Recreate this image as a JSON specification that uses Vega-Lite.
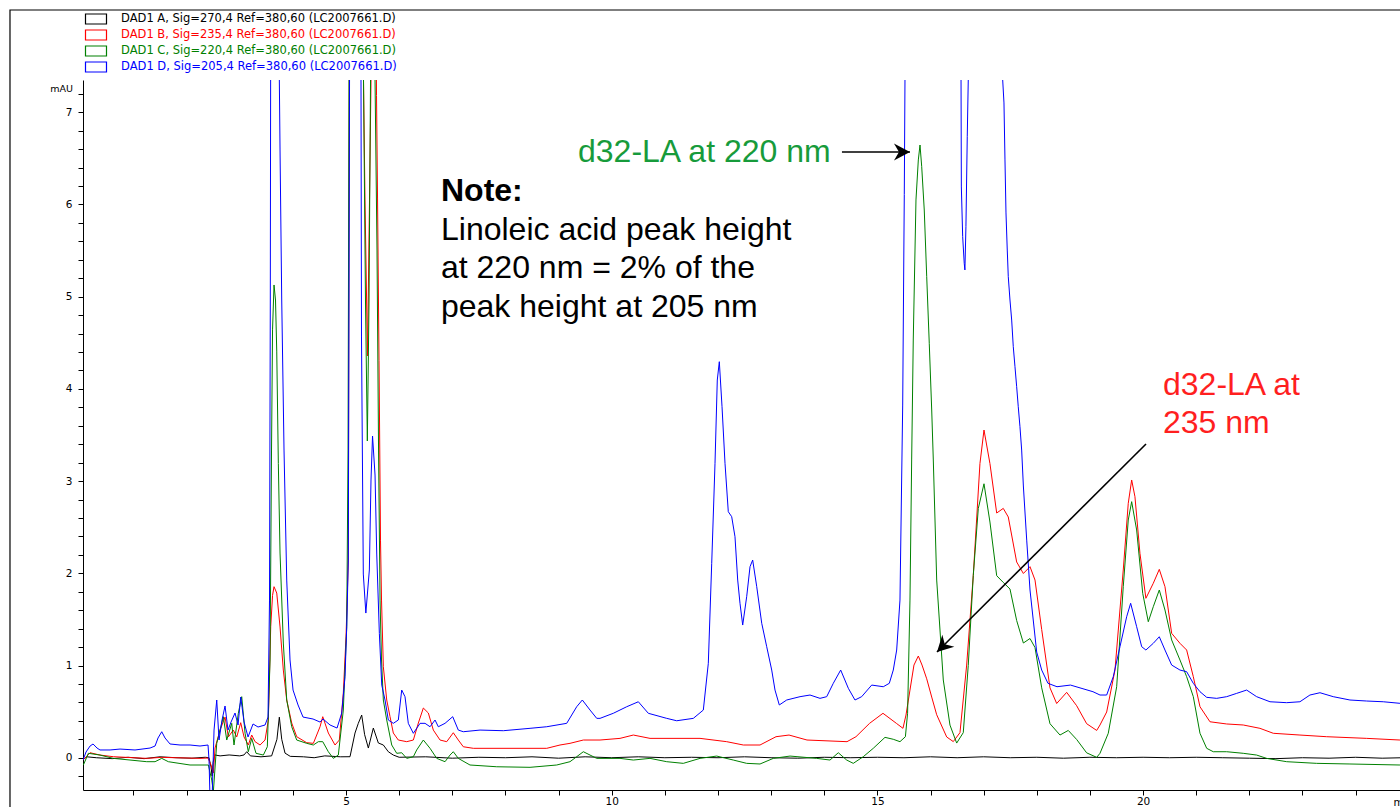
{
  "$schema": "https://vega.github.io/schema/vega-lite/v6.json",
  "autosize": "none",
  "width": 1317,
  "height": 710,
  "padding": {"left": 83, "top": 80, "right": 0, "bottom": 17},
  "background": "white",
  "config": {
    "font": "Liberation Sans",
    "view": {"stroke": null},
    "axis": {"grid": false, "domainColor": "#000", "tickColor": "#000", "labelColor": "#000", "titleColor": "#000", "labelFont": "DejaVu Sans", "titleFont": "DejaVu Sans", "titleFontWeight": "normal"}
  },
  "datasets": {
    "traces": [
      {"ch":"A","t":0.051,"v":-0.02},{"ch":"A","t":0.12,"v":0.01},{"ch":"A","t":0.3,"v":0.0},{"ch":"A","t":0.6,"v":-0.01},{"ch":"A","t":0.9,"v":0.005},{"ch":"A","t":1.2,"v":-0.01},{"ch":"A","t":1.5,"v":0.01},{"ch":"A","t":1.8,"v":0.0},{"ch":"A","t":2.1,"v":-0.005},{"ch":"A","t":2.35,"v":0.005},{"ch":"A","t":2.42,"v":0.0},{"ch":"A","t":2.46,"v":-0.1},{"ch":"A","t":2.48,"v":-0.2},{"ch":"A","t":2.5,"v":-0.05},{"ch":"A","t":2.53,"v":0.03},{"ch":"A","t":2.63,"v":0.02},{"ch":"A","t":2.8,"v":0.03},{"ch":"A","t":3.0,"v":0.02},{"ch":"A","t":3.08,"v":0.03},{"ch":"A","t":3.131,"v":0.065},{"ch":"A","t":3.2,"v":0.02},{"ch":"A","t":3.4,"v":0.01},{"ch":"A","t":3.6,"v":0.02},{"ch":"A","t":3.7,"v":0.2},{"ch":"A","t":3.745,"v":0.44},{"ch":"A","t":3.79,"v":0.2},{"ch":"A","t":3.852,"v":0.05},{"ch":"A","t":3.95,"v":0.015},{"ch":"A","t":4.2,"v":0.01},{"ch":"A","t":4.4,"v":0.0},{"ch":"A","t":4.6,"v":0.02},{"ch":"A","t":4.9,"v":0.01},{"ch":"A","t":5.075,"v":0.011},{"ch":"A","t":5.169,"v":0.268},{"ch":"A","t":5.231,"v":0.373},{"ch":"A","t":5.295,"v":0.463},{"ch":"A","t":5.35,"v":0.25},{"ch":"A","t":5.42,"v":0.105},{"ch":"A","t":5.514,"v":0.322},{"ch":"A","t":5.608,"v":0.16},{"ch":"A","t":5.702,"v":0.138},{"ch":"A","t":5.796,"v":0.065},{"ch":"A","t":5.89,"v":0.029},{"ch":"A","t":6.0,"v":0.005},{"ch":"A","t":6.5,"v":0.01},{"ch":"A","t":7.0,"v":-0.005},{"ch":"A","t":7.5,"v":0.005},{"ch":"A","t":8.0,"v":0.0},{"ch":"A","t":8.5,"v":0.01},{"ch":"A","t":9.0,"v":-0.005},{"ch":"A","t":9.5,"v":0.01},{"ch":"A","t":10.0,"v":0.0},{"ch":"A","t":10.5,"v":0.01},{"ch":"A","t":11.0,"v":0.0},{"ch":"A","t":11.5,"v":0.005},{"ch":"A","t":12.0,"v":0.0},{"ch":"A","t":12.5,"v":0.01},{"ch":"A","t":13.0,"v":0.0},{"ch":"A","t":13.5,"v":-0.005},{"ch":"A","t":14.0,"v":0.005},{"ch":"A","t":14.5,"v":0.0},{"ch":"A","t":15.0,"v":0.005},{"ch":"A","t":15.5,"v":0.0},{"ch":"A","t":16.0,"v":0.01},{"ch":"A","t":16.5,"v":0.0},{"ch":"A","t":17.0,"v":0.01},{"ch":"A","t":17.5,"v":0.0},{"ch":"A","t":18.0,"v":0.005},{"ch":"A","t":18.5,"v":-0.005},{"ch":"A","t":19.0,"v":0.005},{"ch":"A","t":19.5,"v":0.0},{"ch":"A","t":20.0,"v":0.005},{"ch":"A","t":20.5,"v":0.0},{"ch":"A","t":21.0,"v":0.005},{"ch":"A","t":21.5,"v":0.0},{"ch":"A","t":22.0,"v":-0.005},{"ch":"A","t":22.5,"v":-0.01},{"ch":"A","t":23.0,"v":0.0},{"ch":"A","t":23.5,"v":-0.005},{"ch":"A","t":24.0,"v":0.005},{"ch":"A","t":24.5,"v":-0.005},{"ch":"A","t":24.9,"v":0.0},

      {"ch":"B","t":0.051,"v":-0.025},{"ch":"B","t":0.183,"v":0.054},{"ch":"B","t":0.37,"v":0.029},{"ch":"B","t":0.621,"v":0.011},{"ch":"B","t":1.25,"v":-0.007},{"ch":"B","t":1.532,"v":0.004},{"ch":"B","t":2.252,"v":-0.007},{"ch":"B","t":2.403,"v":-0.003},{"ch":"B","t":2.46,"v":-0.08},{"ch":"B","t":2.503,"v":-0.166},{"ch":"B","t":2.535,"v":0.105},{"ch":"B","t":2.629,"v":0.3},{"ch":"B","t":2.723,"v":0.441},{"ch":"B","t":2.785,"v":0.225},{"ch":"B","t":2.879,"v":0.3},{"ch":"B","t":2.943,"v":0.225},{"ch":"B","t":3.018,"v":0.38},{"ch":"B","t":3.081,"v":0.225},{"ch":"B","t":3.161,"v":0.138},{"ch":"B","t":3.225,"v":0.246},{"ch":"B","t":3.288,"v":0.174},{"ch":"B","t":3.382,"v":0.138},{"ch":"B","t":3.476,"v":0.192},{"ch":"B","t":3.538,"v":0.409},{"ch":"B","t":3.583,"v":1.421},{"ch":"B","t":3.617,"v":1.76},{"ch":"B","t":3.645,"v":1.855},{"ch":"B","t":3.696,"v":1.786},{"ch":"B","t":3.758,"v":1.418},{"ch":"B","t":3.82,"v":0.951},{"ch":"B","t":3.884,"v":0.626},{"ch":"B","t":3.978,"v":0.376},{"ch":"B","t":4.072,"v":0.228},{"ch":"B","t":4.26,"v":0.163},{"ch":"B","t":4.385,"v":0.156},{"ch":"B","t":4.511,"v":0.336},{"ch":"B","t":4.562,"v":0.445},{"ch":"B","t":4.667,"v":0.268},{"ch":"B","t":4.793,"v":0.138},{"ch":"B","t":4.874,"v":0.192},{"ch":"B","t":4.949,"v":0.702},{"ch":"B","t":5.0,"v":1.31},{"ch":"B","t":5.043,"v":2.144},{"ch":"B","t":5.062,"v":7.35},{"ch":"B","t":5.075,"v":9},{"ch":"B","t":5.3,"v":9},{"ch":"B","t":5.329,"v":7.35},{"ch":"B","t":5.357,"v":6.049},{"ch":"B","t":5.404,"v":4.357},{"ch":"B","t":5.442,"v":6.049},{"ch":"B","t":5.47,"v":7.35},{"ch":"B","t":5.489,"v":9},{"ch":"B","t":5.555,"v":9},{"ch":"B","t":5.574,"v":7.18},{"ch":"B","t":5.593,"v":6.07},{"ch":"B","t":5.621,"v":4.31},{"ch":"B","t":5.649,"v":2.36},{"ch":"B","t":5.668,"v":1.71},{"ch":"B","t":5.702,"v":0.987},{"ch":"B","t":5.766,"v":0.626},{"ch":"B","t":5.828,"v":0.445},{"ch":"B","t":5.89,"v":0.268},{"ch":"B","t":5.984,"v":0.192},{"ch":"B","t":6.142,"v":0.174},{"ch":"B","t":6.267,"v":0.192},{"ch":"B","t":6.361,"v":0.376},{"ch":"B","t":6.455,"v":0.539},{"ch":"B","t":6.549,"v":0.485},{"ch":"B","t":6.643,"v":0.3},{"ch":"B","t":6.769,"v":0.192},{"ch":"B","t":6.895,"v":0.174},{"ch":"B","t":7.019,"v":0.271},{"ch":"B","t":7.113,"v":0.192},{"ch":"B","t":7.207,"v":0.119},{"ch":"B","t":7.396,"v":0.102},{"ch":"B","t":8.777,"v":0.102},{"ch":"B","t":9.027,"v":0.138},{"ch":"B","t":9.215,"v":0.156},{"ch":"B","t":9.466,"v":0.192},{"ch":"B","t":9.78,"v":0.192},{"ch":"B","t":10.156,"v":0.21},{"ch":"B","t":10.407,"v":0.246},{"ch":"B","t":10.721,"v":0.21},{"ch":"B","t":11.662,"v":0.21},{"ch":"B","t":12.164,"v":0.174},{"ch":"B","t":12.477,"v":0.138},{"ch":"B","t":12.791,"v":0.138},{"ch":"B","t":13.092,"v":0.228},{"ch":"B","t":13.337,"v":0.246},{"ch":"B","t":13.675,"v":0.192},{"ch":"B","t":14.428,"v":0.174},{"ch":"B","t":14.597,"v":0.228},{"ch":"B","t":14.853,"v":0.373},{"ch":"B","t":15.105,"v":0.482},{"ch":"B","t":15.357,"v":0.373},{"ch":"B","t":15.481,"v":0.319},{"ch":"B","t":15.538,"v":0.463},{"ch":"B","t":15.613,"v":0.734},{"ch":"B","t":15.688,"v":1.005},{"ch":"B","t":15.77,"v":1.103},{"ch":"B","t":15.84,"v":1.005},{"ch":"B","t":15.928,"v":0.856},{"ch":"B","t":16.022,"v":0.658},{"ch":"B","t":16.116,"v":0.466},{"ch":"B","t":16.304,"v":0.225},{"ch":"B","t":16.428,"v":0.175},{"ch":"B","t":16.554,"v":0.272},{"ch":"B","t":16.68,"v":1.005},{"ch":"B","t":16.804,"v":1.974},{"ch":"B","t":16.93,"v":3.19},{"ch":"B","t":17.006,"v":3.554},{"ch":"B","t":17.118,"v":3.19},{"ch":"B","t":17.245,"v":2.654},{"ch":"B","t":17.369,"v":2.704},{"ch":"B","t":17.463,"v":2.611},{"ch":"B","t":17.621,"v":2.123},{"ch":"B","t":17.747,"v":1.998},{"ch":"B","t":17.872,"v":2.072},{"ch":"B","t":17.966,"v":1.927},{"ch":"B","t":18.092,"v":1.39},{"ch":"B","t":18.248,"v":0.758},{"ch":"B","t":18.374,"v":0.588},{"ch":"B","t":18.562,"v":0.709},{"ch":"B","t":18.75,"v":0.564},{"ch":"B","t":18.938,"v":0.369},{"ch":"B","t":19.127,"v":0.296},{"ch":"B","t":19.189,"v":0.355},{"ch":"B","t":19.315,"v":0.496},{"ch":"B","t":19.471,"v":0.951},{"ch":"B","t":19.627,"v":2.036},{"ch":"B","t":19.721,"v":2.759},{"ch":"B","t":19.785,"v":3.012},{"ch":"B","t":19.847,"v":2.831},{"ch":"B","t":19.941,"v":2.217},{"ch":"B","t":20.053,"v":1.729},{"ch":"B","t":20.192,"v":1.892},{"ch":"B","t":20.305,"v":2.043},{"ch":"B","t":20.412,"v":1.855},{"ch":"B","t":20.538,"v":1.349},{"ch":"B","t":20.694,"v":1.241},{"ch":"B","t":20.82,"v":1.168},{"ch":"B","t":20.945,"v":0.879},{"ch":"B","t":21.071,"v":0.553},{"ch":"B","t":21.259,"v":0.39},{"ch":"B","t":21.573,"v":0.366},{"ch":"B","t":21.885,"v":0.355},{"ch":"B","t":22.199,"v":0.319},{"ch":"B","t":22.45,"v":0.265},{"ch":"B","t":22.952,"v":0.246},{"ch":"B","t":23.455,"v":0.228},{"ch":"B","t":24.208,"v":0.21},{"ch":"B","t":24.834,"v":0.192},{"ch":"B","t":24.9,"v":0.19},

      {"ch":"C","t":0.057,"v":-0.079},{"ch":"C","t":0.151,"v":0.048},{"ch":"C","t":0.37,"v":0.029},{"ch":"C","t":0.621,"v":-0.007},{"ch":"C","t":1.25,"v":-0.043},{"ch":"C","t":1.406,"v":-0.043},{"ch":"C","t":1.532,"v":-0.007},{"ch":"C","t":1.656,"v":-0.043},{"ch":"C","t":2.064,"v":-0.079},{"ch":"C","t":2.409,"v":-0.079},{"ch":"C","t":2.473,"v":-0.242},{"ch":"C","t":2.503,"v":-0.372},{"ch":"C","t":2.567,"v":0.156},{"ch":"C","t":2.691,"v":0.445},{"ch":"C","t":2.755,"v":0.192},{"ch":"C","t":2.849,"v":0.373},{"ch":"C","t":2.892,"v":0.138},{"ch":"C","t":2.973,"v":0.482},{"ch":"C","t":3.037,"v":0.662},{"ch":"C","t":3.1,"v":0.265},{"ch":"C","t":3.161,"v":0.065},{"ch":"C","t":3.225,"v":0.21},{"ch":"C","t":3.306,"v":0.048},{"ch":"C","t":3.444,"v":0.029},{"ch":"C","t":3.519,"v":0.119},{"ch":"C","t":3.57,"v":1.06},{"ch":"C","t":3.598,"v":3.337},{"ch":"C","t":3.617,"v":4.64},{"ch":"C","t":3.645,"v":5.127},{"ch":"C","t":3.673,"v":4.964},{"ch":"C","t":3.696,"v":4.41},{"ch":"C","t":3.726,"v":3.19},{"ch":"C","t":3.758,"v":2.22},{"ch":"C","t":3.82,"v":1.244},{"ch":"C","t":3.884,"v":0.626},{"ch":"C","t":3.978,"v":0.336},{"ch":"C","t":4.072,"v":0.192},{"ch":"C","t":4.26,"v":0.156},{"ch":"C","t":4.385,"v":0.138},{"ch":"C","t":4.479,"v":0.174},{"ch":"C","t":4.562,"v":0.174},{"ch":"C","t":4.667,"v":0.065},{"ch":"C","t":4.761,"v":-0.007},{"ch":"C","t":4.855,"v":0.029},{"ch":"C","t":4.949,"v":0.517},{"ch":"C","t":5.013,"v":1.421},{"ch":"C","t":5.038,"v":3.337},{"ch":"C","t":5.056,"v":7.35},{"ch":"C","t":5.075,"v":9},{"ch":"C","t":5.31,"v":9},{"ch":"C","t":5.329,"v":7.35},{"ch":"C","t":5.366,"v":4.964},{"ch":"C","t":5.401,"v":3.435},{"ch":"C","t":5.433,"v":4.964},{"ch":"C","t":5.461,"v":7.35},{"ch":"C","t":5.48,"v":9},{"ch":"C","t":5.527,"v":9},{"ch":"C","t":5.546,"v":7.35},{"ch":"C","t":5.583,"v":5.506},{"ch":"C","t":5.612,"v":3.337},{"ch":"C","t":5.64,"v":1.71},{"ch":"C","t":5.668,"v":1.06},{"ch":"C","t":5.702,"v":0.626},{"ch":"C","t":5.766,"v":0.409},{"ch":"C","t":5.86,"v":0.138},{"ch":"C","t":5.954,"v":0.048},{"ch":"C","t":6.048,"v":0.054},{"ch":"C","t":6.142,"v":-0.007},{"ch":"C","t":6.267,"v":0.011},{"ch":"C","t":6.33,"v":0.084},{"ch":"C","t":6.455,"v":0.192},{"ch":"C","t":6.581,"v":0.102},{"ch":"C","t":6.707,"v":-0.007},{"ch":"C","t":6.863,"v":-0.043},{"ch":"C","t":6.957,"v":0.029},{"ch":"C","t":7.019,"v":0.065},{"ch":"C","t":7.113,"v":-0.007},{"ch":"C","t":7.333,"v":-0.079},{"ch":"C","t":7.836,"v":-0.098},{"ch":"C","t":8.463,"v":-0.104},{"ch":"C","t":8.965,"v":-0.079},{"ch":"C","t":9.215,"v":-0.043},{"ch":"C","t":9.341,"v":0.011},{"ch":"C","t":9.466,"v":0.065},{"ch":"C","t":9.592,"v":0.029},{"ch":"C","t":9.718,"v":-0.007},{"ch":"C","t":10.156,"v":-0.007},{"ch":"C","t":10.407,"v":-0.025},{"ch":"C","t":10.721,"v":-0.007},{"ch":"C","t":11.035,"v":-0.043},{"ch":"C","t":11.347,"v":-0.061},{"ch":"C","t":11.662,"v":-0.007},{"ch":"C","t":11.976,"v":0.018},{"ch":"C","t":12.288,"v":-0.025},{"ch":"C","t":12.54,"v":-0.061},{"ch":"C","t":12.791,"v":-0.068},{"ch":"C","t":13.041,"v":-0.007},{"ch":"C","t":13.356,"v":0.018},{"ch":"C","t":13.858,"v":-0.007},{"ch":"C","t":14.108,"v":-0.025},{"ch":"C","t":14.264,"v":0.054},{"ch":"C","t":14.422,"v":-0.025},{"ch":"C","t":14.546,"v":-0.061},{"ch":"C","t":14.734,"v":0.011},{"ch":"C","t":14.922,"v":0.102},{"ch":"C","t":15.143,"v":0.221},{"ch":"C","t":15.299,"v":0.2},{"ch":"C","t":15.425,"v":0.174},{"ch":"C","t":15.527,"v":0.228},{"ch":"C","t":15.568,"v":0.482},{"ch":"C","t":15.613,"v":1.71},{"ch":"C","t":15.645,"v":3.229},{"ch":"C","t":15.675,"v":4.53},{"ch":"C","t":15.726,"v":6.049},{"ch":"C","t":15.77,"v":6.483},{"ch":"C","t":15.802,"v":6.645},{"ch":"C","t":15.834,"v":6.41},{"ch":"C","t":15.882,"v":5.94},{"ch":"C","t":15.928,"v":5.217},{"ch":"C","t":15.976,"v":4.495},{"ch":"C","t":16.022,"v":3.771},{"ch":"C","t":16.052,"v":3.229},{"ch":"C","t":16.116,"v":1.927},{"ch":"C","t":16.24,"v":0.843},{"ch":"C","t":16.366,"v":0.354},{"ch":"C","t":16.492,"v":0.159},{"ch":"C","t":16.616,"v":0.272},{"ch":"C","t":16.71,"v":1.001},{"ch":"C","t":16.804,"v":1.974},{"ch":"C","t":16.899,"v":2.704},{"ch":"C","t":17.006,"v":2.971},{"ch":"C","t":17.118,"v":2.556},{"ch":"C","t":17.245,"v":1.974},{"ch":"C","t":17.369,"v":1.901},{"ch":"C","t":17.495,"v":1.83},{"ch":"C","t":17.621,"v":1.488},{"ch":"C","t":17.747,"v":1.244},{"ch":"C","t":17.872,"v":1.293},{"ch":"C","t":17.966,"v":1.195},{"ch":"C","t":18.092,"v":0.758},{"ch":"C","t":18.248,"v":0.369},{"ch":"C","t":18.436,"v":0.246},{"ch":"C","t":18.592,"v":0.296},{"ch":"C","t":18.75,"v":0.198},{"ch":"C","t":18.938,"v":0.053},{"ch":"C","t":19.127,"v":0.004},{"ch":"C","t":19.189,"v":0.048},{"ch":"C","t":19.345,"v":0.265},{"ch":"C","t":19.503,"v":0.77},{"ch":"C","t":19.627,"v":1.855},{"ch":"C","t":19.721,"v":2.578},{"ch":"C","t":19.785,"v":2.777},{"ch":"C","t":19.879,"v":2.47},{"ch":"C","t":19.993,"v":1.783},{"ch":"C","t":20.098,"v":1.475},{"ch":"C","t":20.192,"v":1.638},{"ch":"C","t":20.305,"v":1.819},{"ch":"C","t":20.412,"v":1.602},{"ch":"C","t":20.538,"v":1.277},{"ch":"C","t":20.694,"v":1.06},{"ch":"C","t":20.82,"v":0.879},{"ch":"C","t":20.945,"v":0.662},{"ch":"C","t":21.071,"v":0.265},{"ch":"C","t":21.197,"v":0.102},{"ch":"C","t":21.321,"v":0.065},{"ch":"C","t":21.573,"v":0.065},{"ch":"C","t":21.885,"v":0.048},{"ch":"C","t":22.137,"v":0.029},{"ch":"C","t":22.325,"v":-0.007},{"ch":"C","t":22.702,"v":-0.043},{"ch":"C","t":23.267,"v":-0.061},{"ch":"C","t":23.893,"v":-0.068},{"ch":"C","t":24.834,"v":-0.079},{"ch":"C","t":24.9,"v":-0.08},

      {"ch":"D","t":0.051,"v":-0.025},{"ch":"D","t":0.107,"v":0.062},{"ch":"D","t":0.183,"v":0.127},{"ch":"D","t":0.239,"v":0.149},{"ch":"D","t":0.314,"v":0.105},{"ch":"D","t":0.37,"v":0.084},{"ch":"D","t":0.559,"v":0.084},{"ch":"D","t":0.747,"v":0.094},{"ch":"D","t":1.029,"v":0.084},{"ch":"D","t":1.312,"v":0.105},{"ch":"D","t":1.406,"v":0.127},{"ch":"D","t":1.462,"v":0.214},{"ch":"D","t":1.532,"v":0.282},{"ch":"D","t":1.594,"v":0.214},{"ch":"D","t":1.688,"v":0.149},{"ch":"D","t":1.876,"v":0.138},{"ch":"D","t":2.064,"v":0.138},{"ch":"D","t":2.252,"v":0.127},{"ch":"D","t":2.403,"v":0.138},{"ch":"D","t":2.422,"v":-0.025},{"ch":"D","t":2.441,"v":-0.46},{"ch":"D","t":2.479,"v":-0.46},{"ch":"D","t":2.516,"v":0.3},{"ch":"D","t":2.567,"v":0.626},{"ch":"D","t":2.61,"v":0.192},{"ch":"D","t":2.667,"v":0.409},{"ch":"D","t":2.723,"v":0.561},{"ch":"D","t":2.779,"v":0.3},{"ch":"D","t":2.836,"v":0.387},{"ch":"D","t":2.911,"v":0.485},{"ch":"D","t":2.968,"v":0.355},{"ch":"D","t":3.018,"v":0.658},{"ch":"D","t":3.081,"v":0.387},{"ch":"D","t":3.156,"v":0.225},{"ch":"D","t":3.25,"v":0.366},{"ch":"D","t":3.344,"v":0.333},{"ch":"D","t":3.476,"v":0.355},{"ch":"D","t":3.532,"v":0.441},{"ch":"D","t":3.56,"v":1.71},{"ch":"D","t":3.575,"v":4.964},{"ch":"D","t":3.581,"v":7.35},{"ch":"D","t":3.598,"v":9},{"ch":"D","t":3.72,"v":9},{"ch":"D","t":3.745,"v":7.35},{"ch":"D","t":3.758,"v":6.591},{"ch":"D","t":3.79,"v":4.964},{"ch":"D","t":3.833,"v":3.337},{"ch":"D","t":3.884,"v":1.927},{"ch":"D","t":3.946,"v":1.06},{"ch":"D","t":4.003,"v":0.734},{"ch":"D","t":4.097,"v":0.572},{"ch":"D","t":4.191,"v":0.441},{"ch":"D","t":4.379,"v":0.42},{"ch":"D","t":4.511,"v":0.387},{"ch":"D","t":4.567,"v":0.42},{"ch":"D","t":4.699,"v":0.355},{"ch":"D","t":4.831,"v":0.322},{"ch":"D","t":4.919,"v":0.485},{"ch":"D","t":4.981,"v":0.879},{"ch":"D","t":5.013,"v":1.421},{"ch":"D","t":5.043,"v":2.144},{"ch":"D","t":5.066,"v":7.35},{"ch":"D","t":5.085,"v":9},{"ch":"D","t":5.263,"v":9},{"ch":"D","t":5.282,"v":7.35},{"ch":"D","t":5.291,"v":4.563},{"ch":"D","t":5.325,"v":1.992},{"ch":"D","t":5.373,"v":1.569},{"ch":"D","t":5.439,"v":2.036},{"ch":"D","t":5.47,"v":3.012},{"ch":"D","t":5.499,"v":3.489},{"ch":"D","t":5.546,"v":3.066},{"ch":"D","t":5.578,"v":2.209},{"ch":"D","t":5.627,"v":1.349},{"ch":"D","t":5.672,"v":0.788},{"ch":"D","t":5.734,"v":0.626},{"ch":"D","t":5.796,"v":0.409},{"ch":"D","t":5.89,"v":0.373},{"ch":"D","t":5.984,"v":0.409},{"ch":"D","t":6.048,"v":0.734},{"ch":"D","t":6.11,"v":0.662},{"ch":"D","t":6.172,"v":0.373},{"ch":"D","t":6.267,"v":0.265},{"ch":"D","t":6.393,"v":0.373},{"ch":"D","t":6.487,"v":0.373},{"ch":"D","t":6.581,"v":0.336},{"ch":"D","t":6.675,"v":0.409},{"ch":"D","t":6.737,"v":0.336},{"ch":"D","t":6.863,"v":0.373},{"ch":"D","t":7.008,"v":0.445},{"ch":"D","t":7.113,"v":0.3},{"ch":"D","t":7.207,"v":0.282},{"ch":"D","t":7.522,"v":0.3},{"ch":"D","t":7.96,"v":0.293},{"ch":"D","t":8.463,"v":0.319},{"ch":"D","t":8.777,"v":0.336},{"ch":"D","t":9.153,"v":0.373},{"ch":"D","t":9.341,"v":0.553},{"ch":"D","t":9.447,"v":0.626},{"ch":"D","t":9.592,"v":0.517},{"ch":"D","t":9.718,"v":0.427},{"ch":"D","t":9.78,"v":0.427},{"ch":"D","t":10.03,"v":0.482},{"ch":"D","t":10.282,"v":0.553},{"ch":"D","t":10.501,"v":0.607},{"ch":"D","t":10.689,"v":0.482},{"ch":"D","t":11.035,"v":0.427},{"ch":"D","t":11.223,"v":0.401},{"ch":"D","t":11.536,"v":0.427},{"ch":"D","t":11.724,"v":0.517},{"ch":"D","t":11.818,"v":1.024},{"ch":"D","t":11.882,"v":2.108},{"ch":"D","t":11.944,"v":3.193},{"ch":"D","t":11.987,"v":4.096},{"ch":"D","t":12.025,"v":4.295},{"ch":"D","t":12.076,"v":3.807},{"ch":"D","t":12.132,"v":3.193},{"ch":"D","t":12.194,"v":2.668},{"ch":"D","t":12.258,"v":2.614},{"ch":"D","t":12.32,"v":2.397},{"ch":"D","t":12.371,"v":1.927},{"ch":"D","t":12.414,"v":1.675},{"ch":"D","t":12.465,"v":1.439},{"ch":"D","t":12.54,"v":1.746},{"ch":"D","t":12.603,"v":2.072},{"ch":"D","t":12.653,"v":2.144},{"ch":"D","t":12.729,"v":1.855},{"ch":"D","t":12.823,"v":1.458},{"ch":"D","t":12.917,"v":1.204},{"ch":"D","t":13.011,"v":0.951},{"ch":"D","t":13.073,"v":0.734},{"ch":"D","t":13.154,"v":0.572},{"ch":"D","t":13.293,"v":0.626},{"ch":"D","t":13.544,"v":0.662},{"ch":"D","t":13.732,"v":0.68},{"ch":"D","t":13.92,"v":0.644},{"ch":"D","t":14.046,"v":0.662},{"ch":"D","t":14.17,"v":0.807},{"ch":"D","t":14.309,"v":0.951},{"ch":"D","t":14.453,"v":0.753},{"ch":"D","t":14.578,"v":0.626},{"ch":"D","t":14.704,"v":0.662},{"ch":"D","t":14.893,"v":0.788},{"ch":"D","t":15.111,"v":0.77},{"ch":"D","t":15.224,"v":0.807},{"ch":"D","t":15.299,"v":0.951},{"ch":"D","t":15.363,"v":1.168},{"ch":"D","t":15.425,"v":1.71},{"ch":"D","t":15.476,"v":3.825},{"ch":"D","t":15.506,"v":6.108},{"ch":"D","t":15.519,"v":7.35},{"ch":"D","t":15.534,"v":9},{"ch":"D","t":16.56,"v":9},{"ch":"D","t":16.574,"v":7.35},{"ch":"D","t":16.58,"v":6.19},{"ch":"D","t":16.605,"v":5.651},{"ch":"D","t":16.634,"v":5.362},{"ch":"D","t":16.647,"v":5.29},{"ch":"D","t":16.666,"v":5.759},{"ch":"D","t":16.691,"v":6.735},{"ch":"D","t":16.71,"v":7.35},{"ch":"D","t":16.723,"v":9},{"ch":"D","t":17.345,"v":9},{"ch":"D","t":17.358,"v":7.35},{"ch":"D","t":17.382,"v":7.101},{"ch":"D","t":17.401,"v":6.483},{"ch":"D","t":17.42,"v":5.908},{"ch":"D","t":17.444,"v":5.506},{"ch":"D","t":17.463,"v":5.217},{"ch":"D","t":17.495,"v":4.964},{"ch":"D","t":17.527,"v":4.747},{"ch":"D","t":17.557,"v":4.458},{"ch":"D","t":17.589,"v":4.241},{"ch":"D","t":17.621,"v":4.024},{"ch":"D","t":17.651,"v":3.807},{"ch":"D","t":17.683,"v":3.59},{"ch":"D","t":17.715,"v":3.337},{"ch":"D","t":17.747,"v":2.947},{"ch":"D","t":17.81,"v":2.36},{"ch":"D","t":17.872,"v":1.819},{"ch":"D","t":17.998,"v":1.146},{"ch":"D","t":18.092,"v":0.951},{"ch":"D","t":18.21,"v":0.807},{"ch":"D","t":18.38,"v":0.77},{"ch":"D","t":18.634,"v":0.788},{"ch":"D","t":19.057,"v":0.716},{"ch":"D","t":19.189,"v":0.68},{"ch":"D","t":19.315,"v":0.68},{"ch":"D","t":19.439,"v":0.879},{"ch":"D","t":19.565,"v":1.204},{"ch":"D","t":19.691,"v":1.529},{"ch":"D","t":19.766,"v":1.675},{"ch":"D","t":19.879,"v":1.421},{"ch":"D","t":19.974,"v":1.204},{"ch":"D","t":20.053,"v":1.168},{"ch":"D","t":20.192,"v":1.241},{"ch":"D","t":20.305,"v":1.312},{"ch":"D","t":20.412,"v":1.168},{"ch":"D","t":20.538,"v":1.005},{"ch":"D","t":20.694,"v":0.951},{"ch":"D","t":20.82,"v":0.933},{"ch":"D","t":20.945,"v":0.807},{"ch":"D","t":21.071,"v":0.716},{"ch":"D","t":21.197,"v":0.655},{"ch":"D","t":21.385,"v":0.644},{"ch":"D","t":21.573,"v":0.662},{"ch":"D","t":21.761,"v":0.698},{"ch":"D","t":21.949,"v":0.734},{"ch":"D","t":22.137,"v":0.662},{"ch":"D","t":22.388,"v":0.607},{"ch":"D","t":22.702,"v":0.597},{"ch":"D","t":22.952,"v":0.607},{"ch":"D","t":23.14,"v":0.68},{"ch":"D","t":23.329,"v":0.705},{"ch":"D","t":23.579,"v":0.662},{"ch":"D","t":23.893,"v":0.626},{"ch":"D","t":24.208,"v":0.615},{"ch":"D","t":24.52,"v":0.607},{"ch":"D","t":24.834,"v":0.59},{"ch":"D","t":24.9,"v":0.59}
    ],
    "notes": [
      {"grp":"green","label":"d32-LA at 220 nm","t":9.366,"v":6.466},
      {"grp":"head","label":"Note:","t":6.787,"v":6.038},
      {"grp":"body","label":"Linoleic acid peak height","t":6.787,"v":5.62},
      {"grp":"body","label":"at 220 nm = 2% of the","t":6.787,"v":5.203},
      {"grp":"body","label":"peak height at 205 nm","t":6.787,"v":4.785},
      {"grp":"red","label":"d32-LA at","t":20.375,"v":3.939},
      {"grp":"red","label":"235 nm","t":20.375,"v":3.527}
    ],
    "arrows": [
      {"id":"a220","t1":14.333,"v1":6.569,"t2":15.613,"v2":6.569},
      {"id":"a235","t1":20.055,"v1":3.402,"t2":16.122,"v2":1.147}
    ]
  },
  "layer": [
    {
      "data": {"values": [{}]},
      "mark": {"type": "rect", "filled": false, "stroke": "#000", "strokeWidth": 1.2, "clip": false},
      "encoding": {
        "x": {"datum": -1.324, "type": "quantitative", "scale": {"domain": [0.05, 24.835], "nice": false, "zero": false}},
        "x2": {"datum": 30},
        "y": {"datum": 8.109, "type": "quantitative", "scale": {"domain": [-0.35, 7.35], "nice": false, "zero": false}},
        "y2": {"datum": -1}
      }
    },
    {
      "data": {"name": "traces"},
      "mark": {"type": "line", "clip": true, "strokeWidth": 1, "interpolate": "linear"},
      "encoding": {
        "x": {"field": "t", "type": "quantitative", "scale": {"domain": [0.05, 24.835], "nice": false, "zero": false},
          "axis": {"title": "min", "values": [1,2,3,4,5,6,7,8,9,10,11,12,13,14,15,16,17,18,19,20,21,22,23,24], "tickCount": 100, "labelExpr": "datum.value % 5 === 0 ? '' + datum.value : ''", "tickSize": 5, "labelFontSize": 10.5, "labelPadding": 1, "labelOverlap": false, "labelFlush": false, "titleFontSize": 10.5, "titleAlign": "left", "titleBaseline": "middle", "titleAnchor": "start", "titleX": 1310, "titleY": 12}},
        "y": {"field": "v", "type": "quantitative", "scale": {"domain": [-0.35, 7.35], "nice": false, "zero": false},
          "axis": {"title": "mAU", "values": [-0.2,0,0.2,0.4,0.6,0.8,1,1.2,1.4,1.6,1.8,2,2.2,2.4,2.6,2.8,3,3.2,3.4,3.6,3.8,4,4.2,4.4,4.6,4.8,5,5.2,5.4,5.6,5.8,6,6.2,6.4,6.6,6.8,7,7.2], "tickCount": 100, "labelExpr": "abs(datum.value - round(datum.value)) < 0.01 ? '' + round(datum.value) : ''", "tickSize": 5, "labelFontSize": 10.5, "labelPadding": 6, "labelOverlap": false, "labelFlush": false, "titleAngle": 0, "titleFontSize": 9.5, "titleAlign": "center", "titleBaseline": "middle", "titleX": -22, "titleY": 8}},
        "color": {"field": "ch", "type": "nominal",
          "scale": {"domain": ["A","B","C","D"], "range": ["#000000","#ff0000","#008000","#0000ff"]},
          "legend": {"orient": "none", "legendX": 7, "legendY": -67, "padding": 0, "title": null,
            "symbolType": "M-2.1,-1H2.1V1H-2.1Z", "symbolSize": 100, "symbolStrokeWidth": 1.2, "symbolFillColor": "transparent",
            "labelFont": "DejaVu Sans", "labelFontSize": 11.5, "labelOffset": 19, "labelLimit": 500, "rowPadding": 0,
            "labelExpr": "datum.label == 'A' ? 'DAD1 A, Sig=270,4 Ref=380,60 (LC2007661.D)' : datum.label == 'B' ? 'DAD1 B, Sig=235,4 Ref=380,60 (LC2007661.D)' : datum.label == 'C' ? 'DAD1 C, Sig=220,4 Ref=380,60 (LC2007661.D)' : 'DAD1 D, Sig=205,4 Ref=380,60 (LC2007661.D)'",
            "encode": {"labels": {"update": {"fill": {"signal": "scale('color', datum.value)"}}}}}
        }
      }
    },
    {
      "data": {"name": "arrows"},
      "mark": {"type": "rule", "color": "#000", "strokeWidth": 1.6},
      "encoding": {
        "x": {"field": "t1", "type": "quantitative", "scale": {"domain": [0.05, 24.835], "nice": false, "zero": false}},
        "x2": {"field": "t2"},
        "y": {"field": "v1", "type": "quantitative", "scale": {"domain": [-0.35, 7.35], "nice": false, "zero": false}},
        "y2": {"field": "v2"}
      }
    },
    {
      "data": {"name": "arrows"},
      "transform": [{"filter": "datum.id == 'a220'"}],
      "mark": {"type": "point", "shape": "M0,0L0.85,1.6L0,1.1L-0.85,1.6Z", "size": 400, "filled": true, "color": "#000", "opacity": 1, "angle": 90},
      "encoding": {
        "x": {"field": "t2", "type": "quantitative", "scale": {"domain": [0.05, 24.835], "nice": false, "zero": false}},
        "y": {"field": "v2", "type": "quantitative", "scale": {"domain": [-0.35, 7.35], "nice": false, "zero": false}}
      }
    },
    {
      "data": {"name": "arrows"},
      "transform": [{"filter": "datum.id == 'a235'"}],
      "mark": {"type": "point", "shape": "M0,0L0.85,1.6L0,1.1L-0.85,1.6Z", "size": 400, "filled": true, "color": "#000", "opacity": 1, "angle": 225},
      "encoding": {
        "x": {"field": "t2", "type": "quantitative", "scale": {"domain": [0.05, 24.835], "nice": false, "zero": false}},
        "y": {"field": "v2", "type": "quantitative", "scale": {"domain": [-0.35, 7.35], "nice": false, "zero": false}}
      }
    },
    {
      "data": {"name": "notes"},
      "transform": [{"filter": "datum.grp == 'green'"}],
      "mark": {"type": "text", "align": "left", "baseline": "alphabetic", "font": "Liberation Sans", "fontSize": 32, "color": "#179b3b"},
      "encoding": {
        "x": {"field": "t", "type": "quantitative", "scale": {"domain": [0.05, 24.835], "nice": false, "zero": false}},
        "y": {"field": "v", "type": "quantitative", "scale": {"domain": [-0.35, 7.35], "nice": false, "zero": false}},
        "text": {"field": "label"}
      }
    },
    {
      "data": {"name": "notes"},
      "transform": [{"filter": "datum.grp == 'head'"}],
      "mark": {"type": "text", "align": "left", "baseline": "alphabetic", "font": "Liberation Sans", "fontSize": 32, "fontWeight": "bold", "color": "#000"},
      "encoding": {
        "x": {"field": "t", "type": "quantitative", "scale": {"domain": [0.05, 24.835], "nice": false, "zero": false}},
        "y": {"field": "v", "type": "quantitative", "scale": {"domain": [-0.35, 7.35], "nice": false, "zero": false}},
        "text": {"field": "label"}
      }
    },
    {
      "data": {"name": "notes"},
      "transform": [{"filter": "datum.grp == 'body'"}],
      "mark": {"type": "text", "align": "left", "baseline": "alphabetic", "font": "Liberation Sans", "fontSize": 32, "color": "#000"},
      "encoding": {
        "x": {"field": "t", "type": "quantitative", "scale": {"domain": [0.05, 24.835], "nice": false, "zero": false}},
        "y": {"field": "v", "type": "quantitative", "scale": {"domain": [-0.35, 7.35], "nice": false, "zero": false}},
        "text": {"field": "label"}
      }
    },
    {
      "data": {"name": "notes"},
      "transform": [{"filter": "datum.grp == 'red'"}],
      "mark": {"type": "text", "align": "left", "baseline": "alphabetic", "font": "Liberation Sans", "fontSize": 32, "color": "#ff1f1f"},
      "encoding": {
        "x": {"field": "t", "type": "quantitative", "scale": {"domain": [0.05, 24.835], "nice": false, "zero": false}},
        "y": {"field": "v", "type": "quantitative", "scale": {"domain": [-0.35, 7.35], "nice": false, "zero": false}},
        "text": {"field": "label"}
      }
    }
  ]
}
